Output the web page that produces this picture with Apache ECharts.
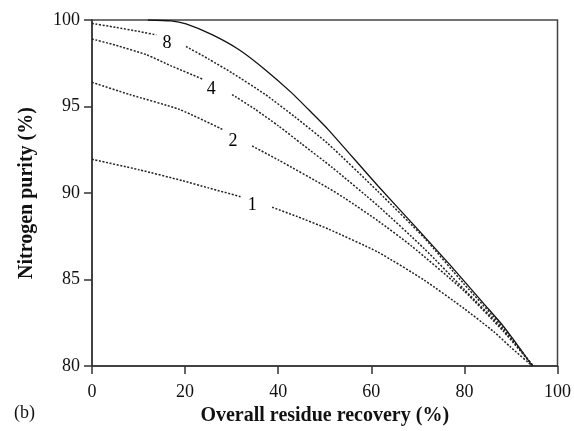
<!DOCTYPE html>
<html>
<head>
<meta charset="utf-8">
<script src="https://cdn.jsdelivr.net/npm/echarts@6/dist/echarts.min.js"></script>
<style>
	html, body { margin: 0; padding: 0; background: #fff; }
	#chart { width: 574px; height: 431px; }
</style>
</head>
<body>
<div id="chart"></div>
<script>
// values: [recovery %, purity %], null = gap for the curve label
let solidCurve = [
	[12, 100], [17, 99.95], [20.2, 99.77], [25.9, 99.14], [31.6, 98.28],
	[37.2, 97.13], [42.9, 95.79], [47.2, 94.64], [50.7, 93.68],
	[61.4, 90.42], [69.9, 87.93], [77, 85.82], [84.2, 83.6], [88.4, 82.3],
	[90.9, 81.4], [94.6, 80],
];
let curve8 = [
	[0, 99.8], [5, 99.58], [10.2, 99.33], [13.8, 99.14], null,
	[20.2, 98.47], [25, 97.75], [30.1, 96.94], [37.2, 95.7], [43.6, 94.4],
	[50.7, 92.85], [61.4, 90.1], [71.4, 87.4], [79.9, 84.75], [88.4, 82.2], [94.7, 80],
];
let curve4 = [
	[0, 98.9], [5, 98.55], [11.7, 97.99], [17, 97.35], [23.7, 96.59], null,
	[30.1, 95.69], [35, 94.85], [40.1, 93.87], [45, 92.85], [51.5, 91.5],
	[61.4, 89.27], [71.4, 86.78], [79.9, 84.45], [88.4, 82.1], [94.8, 80],
];
let curve2 = [
	[0, 96.4], [8.1, 95.69], [18.8, 94.83], [28, 93.68], null,
	[34.4, 92.72], [40.1, 91.9], [50.7, 90.3], [54.3, 89.7], [61.4, 88.4],
	[68.5, 86.97], [79.9, 84.35], [88.4, 82], [94.8, 80],
];
let curve1 = [
	[0, 91.95], [10.2, 91.34], [19.5, 90.71], [25, 90.3], [31.9, 89.79], null,
	[38.7, 89.18], [44, 88.65], [50.7, 87.93], [61.4, 86.59], [71.4, 84.96],
	[79.9, 83.33], [86.3, 81.99], [89.8, 81.13], [94.6, 80],
];
let curveLabels = [
	[16.1, 98.66, '8'],
	[25.6, 96.02, '4'],
	[30.3, 93.01, '2'],
	[34.4, 89.27, '1'],
];

let serif = 'Liberation Serif';
let ink = '#111';

let chart = echarts.init(document.getElementById('chart'));

let dotted = (data) => ({
	type: 'line',
	data: data.map((p) => (p ? p : ['-', '-'])),
	showSymbol: false,
	smooth: 0.2,
	connectNulls: false,
	lineStyle: {color: '#222', width: 1.5, type: [2, 1.6]},
	silent: true,
});

chart.setOption({
	animation: false,
	backgroundColor: '#fff',
	grid: {
		left: 92,
		right: 13,
		top: 20,
		bottom: 63,
		show: true,
		borderColor: '#444',
		borderWidth: 1.5,
	},
	xAxis: {
		type: 'value',
		min: 0,
		max: 100,
		interval: 20,
		name: 'Overall residue recovery (%)',
		nameLocation: 'middle',
		nameGap: 39,
		nameTextStyle: {fontFamily: serif, fontWeight: 'bold', fontSize: 20, color: ink},
		axisLine: {lineStyle: {color: '#333', width: 1.5}},
		axisTick: {inside: false, length: 8, lineStyle: {color: '#333', width: 1.5}},
		axisLabel: {fontFamily: serif, fontSize: 18, color: ink, margin: 17},
		splitLine: {show: false},
	},
	yAxis: {
		type: 'value',
		min: 80,
		max: 100,
		interval: 5,
		name: 'Nitrogen purity (%)',
		nameLocation: 'middle',
		nameGap: 55,
		nameTextStyle: {fontFamily: serif, fontWeight: 'bold', fontSize: 20, color: ink},
		axisLine: {lineStyle: {color: '#333', width: 1.5}},
		axisTick: {inside: false, length: 8, lineStyle: {color: '#333', width: 1.5}},
		axisLabel: {fontFamily: serif, fontSize: 18, color: ink, margin: 12},
		splitLine: {show: false},
	},
	graphic: [{
		type: 'text',
		left: 14,
		top: 404,
		style: {text: '(b)', font: '18px "Liberation Serif"', fill: ink},
	}],
	series: [
		{
			type: 'line',
			data: solidCurve,
			showSymbol: false,
			smooth: 0.2,
			lineStyle: {color: '#111', width: 1.3},
			silent: true,
		},
		dotted(curve8),
		dotted(curve4),
		dotted(curve2),
		dotted(curve1),
		{
			type: 'scatter',
			data: curveLabels,
			symbolSize: 0,
			itemStyle: {opacity: 1},
			label: {
				show: true,
				position: 'inside',
				formatter: (p) => p.value[2],
				fontFamily: serif,
				fontSize: 18,
				color: '#000',
			},
			silent: true,
		},
	],
});
</script>
</body>
</html>
